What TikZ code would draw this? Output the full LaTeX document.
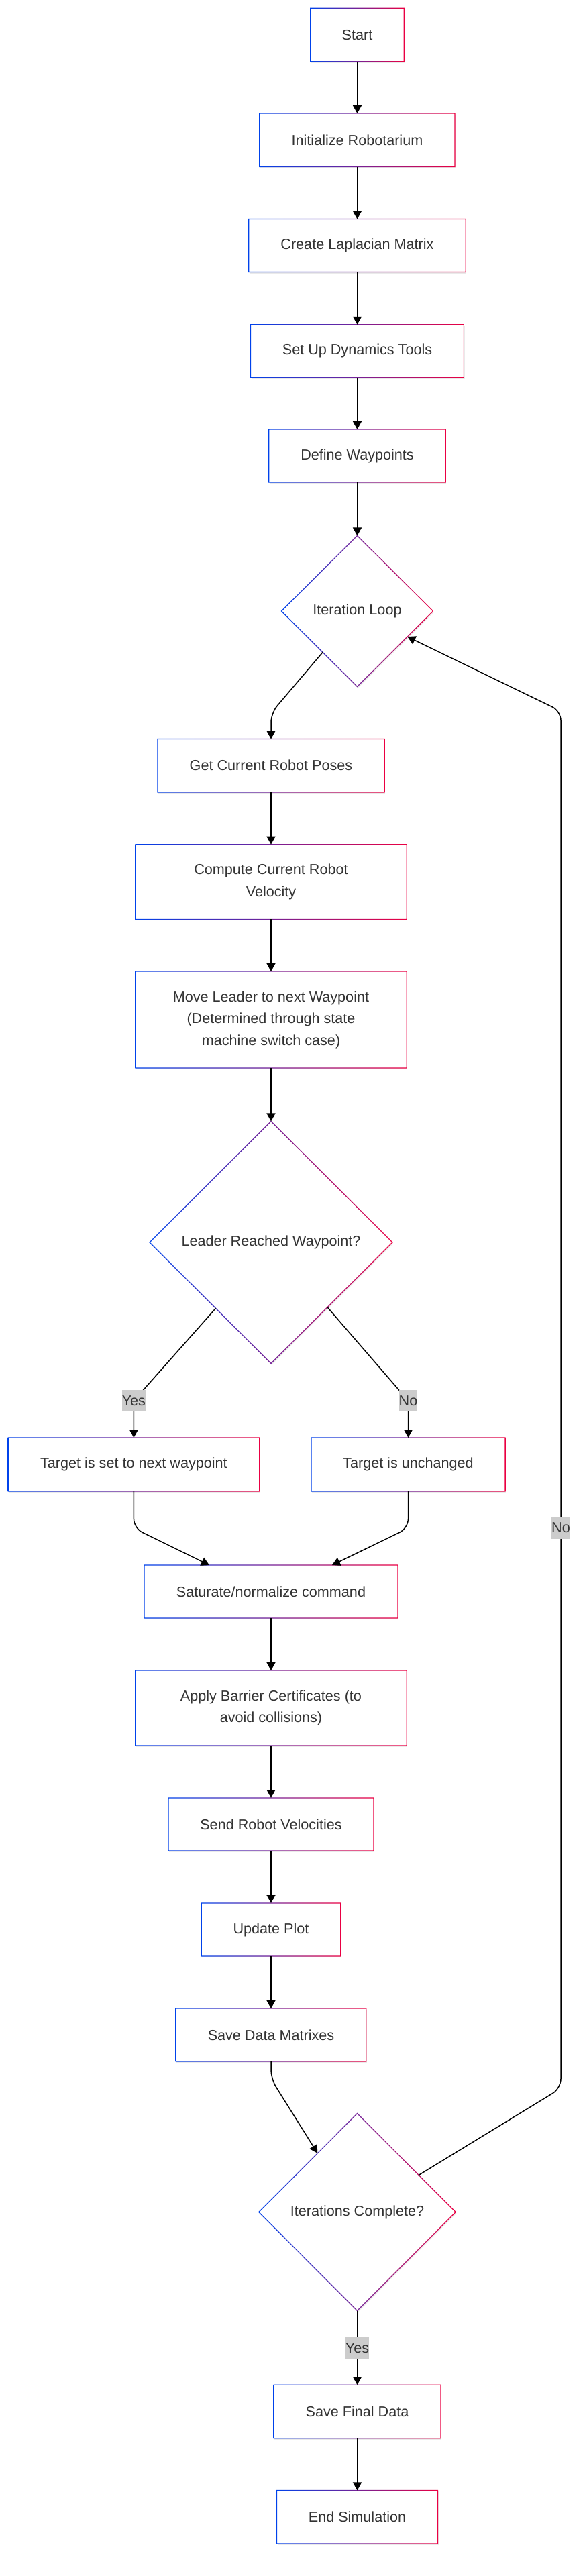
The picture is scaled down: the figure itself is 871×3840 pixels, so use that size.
\documentclass[tikz,border=0pt]{standalone}
\usepackage{fontspec}
\setmainfont{Liberation Sans}
\usetikzlibrary{arrows.meta,shapes.geometric,shadows,calc}
\definecolor{gs}{HTML}{0042EB}
\definecolor{ge}{HTML}{EB0042}
\definecolor{txt}{HTML}{333333}
\definecolor{lbl}{HTML}{CCCCCC}
\begin{document}
\begin{tikzpicture}[x=1pt,y=-1pt,
  base/.style={fill=white, text=txt, font=\fontsize{21.6}{32.4}\selectfont, align=center,
    inner sep=0pt, outer sep=0pt,
    drop shadow={shadow xshift=1pt, shadow yshift=-2pt, opacity=0.16}},
  box/.style={base, rectangle},
  dia/.style={base, diamond, aspect=1},
  edge/.style={line width=1.5pt, -{Triangle[length=12pt,width=13pt]}, rounded corners=14pt},
  elabel/.style={fill=lbl, text=txt, font=\fontsize{21.6}{32.4}\selectfont, inner xsep=0pt,
    inner ysep=0pt, minimum height=32pt}
]
\useasboundingbox (0,0) rectangle (871,3840);
\fill[white] (0,0) rectangle (871,3840);

% nodes
\node[box, minimum width=139.5pt, minimum height=79.6pt] (start) at (532.5,52) {Start};
\node[box, minimum width=291pt, minimum height=79.5pt] (init) at (532.5,208.8) {Initialize Robotarium};
\node[box, minimum width=323.5pt, minimum height=79pt] (lap) at (532.5,366) {Create Laplacian Matrix};
\node[box, minimum width=318pt, minimum height=79pt] (dyn) at (532.5,523.3) {Set Up Dynamics Tools};
\node[box, minimum width=263.5pt, minimum height=79pt] (wp) at (532.5,679.5) {Define Waypoints};
\node[dia, minimum width=226pt, minimum height=225pt] (il) at (532.5,911) {Iteration Loop};
\node[box, minimum width=338pt, minimum height=79.5pt] (gp) at (404,1141.2) {Get Current Robot Poses};
\node[box, minimum width=404.3pt, minimum height=111.7pt] (cv) at (404,1314.5) {Compute Current Robot\\Velocity};
\node[box, minimum width=404.3pt, minimum height=144pt] (ml) at (404,1520) {Move Leader to next Waypoint\\(Determined through state\\machine switch case)};
\node[dia, minimum width=362pt, minimum height=361pt] (lr) at (404,1852) {Leader Reached Waypoint?};
\node[box, minimum width=374.5pt, minimum height=80pt] (ts) at (199.4,2183) {Target is set to next waypoint};
\node[box, minimum width=289pt, minimum height=80pt] (tu) at (608.5,2183) {Target is unchanged};
\node[box, minimum width=378pt, minimum height=79pt] (sat) at (404,2372.5) {Saturate/normalize command};
\node[box, minimum width=404.3pt, minimum height=112pt] (ab) at (404,2546) {Apply Barrier Certificates (to\\avoid collisions)};
\node[box, minimum width=306pt, minimum height=79pt] (sv) at (404,2719.5) {Send Robot Velocities};
\node[box, minimum width=207.5pt, minimum height=79pt] (up) at (404,2876.5) {Update Plot};
\node[box, minimum width=283.5pt, minimum height=79pt] (sd) at (404,3033.5) {Save Data Matrixes};
\node[dia, minimum width=293.5pt, minimum height=294pt] (ic) at (532.5,3297.5) {Iterations Complete?};
\node[box, minimum width=248.7pt, minimum height=79.7pt] (sf) at (532.5,3595) {Save Final Data};
\node[box, minimum width=240pt, minimum height=79.5pt] (fin) at (532.5,3752.2) {End Simulation};

% gradient borders
\foreach \n in {start,init,lap,dyn,wp,gp,cv,ml,ts,tu,sat,ab,sv,up,sd,sf,fin}{
  \shade[left color=gs, right color=ge, even odd rule]
    ([shift={(-0.6pt,-0.6pt)}]\n.south west) rectangle ([shift={(0.6pt,0.6pt)}]\n.north east)
    ([shift={(0.6pt,0.6pt)}]\n.south west) rectangle ([shift={(-0.6pt,-0.6pt)}]\n.north east);
}
\foreach \n in {il,lr,ic}{
  \shade[left color=gs, right color=ge, even odd rule]
    ([yshift=0.85pt]\n.north) -- ([xshift=0.85pt]\n.east) -- ([yshift=-0.85pt]\n.south) -- ([xshift=-0.85pt]\n.west) -- cycle
    ([yshift=-0.85pt]\n.north) -- ([xshift=-0.85pt]\n.east) -- ([yshift=0.85pt]\n.south) -- ([xshift=0.85pt]\n.west) -- cycle;
}

% edges
\draw[edge] (start) -- (init);
\draw[edge] (init) -- (lap);
\draw[edge] (lap) -- (dyn);
\draw[edge] (dyn) -- (wp);
\draw[edge] (wp) -- (il);
\draw[edge] (il.-130) -- (404,1063) -- (gp.north);
\draw[edge] (gp) -- (cv);
\draw[edge] (cv) -- (ml);
\draw[edge] (ml) -- (lr);
\draw[edge] (lr.-130.5) -- (199.4,2088) -- (ts.north);
\draw[edge] (lr.-49.5) -- (608.5,2088) -- (tu.north);
\draw[edge] (ts.south) -- (199.4,2278) -- ([xshift=-92pt]sat.north);
\draw[edge] (tu.south) -- (608.5,2278) -- ([xshift=91pt]sat.north);
\draw[edge] (sat) -- (ab);
\draw[edge] (ab) -- (sv);
\draw[edge] (sv) -- (up);
\draw[edge] (up) -- (sd);
\draw[edge] (sd.south) -- (404,3099) -- (ic.124);
\draw[edge] (ic.31) -- (836,3113) -- (836,1060) -- (il.-27);
\draw[edge] (ic) -- (sf);
\draw[edge] (sf) -- (fin);

% edge labels
\node[elabel] (lyes1) at (199.4,2088) {Yes};
\node[elabel] (lno1) at (608.5,2088) {No};
\node[elabel] (lno2) at (836,2277.5) {No};
\node[elabel] (lyes2) at (532.5,3500) {Yes};
\end{tikzpicture}
\end{document}
